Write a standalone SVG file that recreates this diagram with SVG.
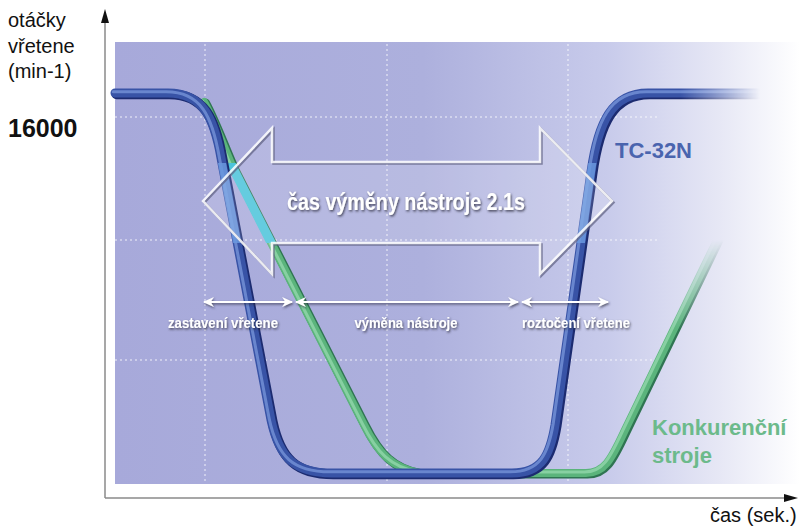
<svg xmlns="http://www.w3.org/2000/svg" width="800" height="528" viewBox="0 0 800 528">
  <defs>
    <linearGradient id="bg" x1="115" y1="0" x2="800" y2="0" gradientUnits="userSpaceOnUse">
      <stop offset="0" stop-color="#a7a9da"/>
      <stop offset="0.45" stop-color="#adb0dd"/>
      <stop offset="0.72" stop-color="#c8cbeb"/>
      <stop offset="0.88" stop-color="#e6e7f5"/>
      <stop offset="1" stop-color="#ffffff"/>
    </linearGradient>
    <linearGradient id="fadeX" x1="680" y1="0" x2="760" y2="0" gradientUnits="userSpaceOnUse">
      <stop offset="0" stop-color="#fff"/>
      <stop offset="1" stop-color="#000"/>
    </linearGradient>
    <linearGradient id="fadeY" x1="0" y1="240" x2="0" y2="330" gradientUnits="userSpaceOnUse">
      <stop offset="0" stop-color="#000"/>
      <stop offset="1" stop-color="#fff"/>
    </linearGradient>
    <mask id="blueMask" maskUnits="userSpaceOnUse" x="0" y="0" width="800" height="528">
      <rect x="0" y="0" width="800" height="528" fill="url(#fadeX)"/>
    </mask>
    <mask id="greenMask" maskUnits="userSpaceOnUse" x="0" y="0" width="800" height="528">
      <rect x="0" y="0" width="640" height="528" fill="#fff"/>
      <rect x="640" y="0" width="160" height="528" fill="url(#fadeY)"/>
    </mask>
    <clipPath id="band">
      <rect x="203" y="163" width="410" height="80"/>
    </clipPath>
    <marker id="ah" viewBox="0 0 10 10" refX="9" refY="5" markerWidth="11" markerHeight="11" markerUnits="userSpaceOnUse" orient="auto-start-reverse">
      <path d="M0,0.5 L10,5 L0,9.5 L3,5 Z" fill="#ffffff"/>
    </marker>
    <filter id="sh" x="-10%" y="-30%" width="120%" height="160%">
      <feDropShadow dx="1" dy="1.5" stdDeviation="0.8" flood-color="#2a2a3a" flood-opacity="0.8"/>
    </filter>
    <filter id="shL" filterUnits="userSpaceOnUse" x="180" y="285" width="450" height="35">
      <feDropShadow dx="1" dy="1.5" stdDeviation="0.8" flood-color="#2a2a3a" flood-opacity="0.7"/>
    </filter>
    <path id="bluePath" d="M115,93 L168,93 C203,93 214,118 221,158 L271,420 C279,458 295,473 332,473 L512,473 C542,473 550,455 555,425 L591,172 C598,122 612,93 648,93 L760,93"/>
    <path id="greenPath" d="M204,102 C214,120 224,148 234,170 L364,425 C378,453 392,468 420,473 L586,473 C604,473 611,460 624,432 L718,238"/>
  </defs>
  <style>
    .ax { stroke: #8a8a8a; stroke-width: 1.5; fill: none; }
    .grid { stroke: #ffffff; stroke-width: 1.5; stroke-dasharray: 2 3; opacity: 0.55; fill: none; }
    .lbl { font-family: "Liberation Sans", Arial, sans-serif; fill: #111; font-size: 20px; }
    .wt { font-family: "Liberation Sans", Arial, sans-serif; font-weight: bold; fill: #ffffff; filter: url(#sh); }
    .span { stroke: #ffffff; stroke-width: 2; fill: none; marker-start: url(#ah); marker-end: url(#ah); }
  </style>

  <!-- plot background -->
  <rect x="115" y="42" width="685" height="442" fill="url(#bg)"/>

  <!-- grid -->
  <g id="grid">
    <line class="grid" x1="115" y1="117" x2="660" y2="117"/>
    <line class="grid" x1="115" y1="240" x2="660" y2="240"/>
    <line class="grid" x1="115" y1="360" x2="660" y2="360"/>
    <line class="grid" x1="205" y1="44" x2="205" y2="484"/>
    <line class="grid" x1="387" y1="44" x2="387" y2="484"/>
    <line class="grid" x1="568" y1="44" x2="568" y2="484"/>
  </g>

  <!-- axes -->
  <g id="axes">
    <line class="ax" x1="105" y1="20" x2="105" y2="498"/>
    <line class="ax" x1="105" y1="498" x2="788" y2="498"/>
    <path d="M105,9 L101,23 L109,23 Z" fill="#111"/>
    <path d="M798,498 L784,494 L784,502 Z" fill="#111"/>
  </g>

  <!-- competitor curve -->
  <g id="curve-konkurencni" mask="url(#greenMask)">
    <use href="#greenPath" fill="none" stroke="#2f7552" stroke-width="9" stroke-linecap="round" transform="translate(1.5,1)"/>
    <use href="#greenPath" fill="none" stroke="#5bb47c" stroke-width="8" stroke-linecap="round"/>
    <use href="#greenPath" fill="none" stroke="#9adcb2" stroke-width="3" stroke-linecap="round" opacity="0.7" transform="translate(-1.5,-1)"/>
    <use href="#greenPath" fill="none" stroke="#4cc4da" stroke-width="9" clip-path="url(#band)"/>
  </g>

  <!-- TC-32N curve -->
  <g id="curve-tc32n" mask="url(#blueMask)">
    <use href="#bluePath" fill="none" stroke="#1c2b70" stroke-width="10" stroke-linecap="round" transform="translate(1.5,1.2)"/>
    <use href="#bluePath" fill="none" stroke="#3853a6" stroke-width="9" stroke-linecap="round"/>
    <use href="#bluePath" fill="none" stroke="#7f9de0" stroke-width="3" stroke-linecap="round" opacity="0.7" transform="translate(-1.8,-1.2)"/>
    <use href="#bluePath" fill="none" stroke="#6a98de" stroke-width="8" clip-path="url(#band)" opacity="0.85"/>
  </g>

  <!-- big double arrow -->
  <g id="arrow-vymena">
    <polygon points="203,201 272,128 272,162 540,162 540,128 612,201 540,274 540,243 272,243 272,274" fill="#ffffff" fill-opacity="0.14" stroke="#5e6080" stroke-width="2.5" stroke-opacity="0.7" transform="translate(1.5,1.5)"/>
    <polygon points="203,201 272,128 272,162 540,162 540,128 612,201 540,274 540,243 272,243 272,274" fill="none" stroke="#ffffff" stroke-width="2.5" stroke-opacity="0.85"/>
    <text class="wt" x="406" y="210" font-size="23" text-anchor="middle" textLength="238" lengthAdjust="spacingAndGlyphs">čas výměny nástroje 2.1s</text>
  </g>

  <!-- phase spans -->
  <g id="connectors" filter="url(#shL)">
    <line class="span" x1="204" y1="302" x2="292" y2="302"/>
    <line class="span" x1="296" y1="302" x2="518" y2="302"/>
    <line class="span" x1="522" y1="302" x2="608" y2="302"/>
  </g>
  <g id="phase-labels">
    <text class="wt" x="223" y="328" font-size="15" text-anchor="middle" textLength="110" lengthAdjust="spacingAndGlyphs">zastavení vřetene</text>
    <text class="wt" x="406" y="328" font-size="15" text-anchor="middle" textLength="103" lengthAdjust="spacingAndGlyphs">výměna nástroje</text>
    <text class="wt" x="576" y="328" font-size="15" text-anchor="middle" textLength="108" lengthAdjust="spacingAndGlyphs">roztočení vřetene</text>
  </g>

  <!-- axis labels -->
  <g id="y-label">
    <text class="lbl" x="8" y="27">otáčky</text>
    <text class="lbl" x="8" y="53">vřetene</text>
    <text class="lbl" x="8" y="78">(min-1)</text>
    <text x="8" y="137" font-family="Liberation Sans, Arial, sans-serif" font-weight="bold" font-size="25" fill="#111">16000</text>
  </g>
  <g id="x-label">
    <text class="lbl" x="710" y="522">čas (sek.)</text>
  </g>

  <!-- series labels -->
  <g id="label-tc32n">
    <text x="615" y="158" font-family="Liberation Sans, Arial, sans-serif" font-weight="bold" font-size="22" fill="#4a64ae">TC-32N</text>
  </g>
  <g id="label-konkurencni">
    <text x="652" y="435" font-family="Liberation Sans, Arial, sans-serif" font-weight="bold" font-size="22" fill="#6cba8b">Konkurenční</text>
    <text x="652" y="463" font-family="Liberation Sans, Arial, sans-serif" font-weight="bold" font-size="22" fill="#6cba8b">stroje</text>
  </g>
</svg>
